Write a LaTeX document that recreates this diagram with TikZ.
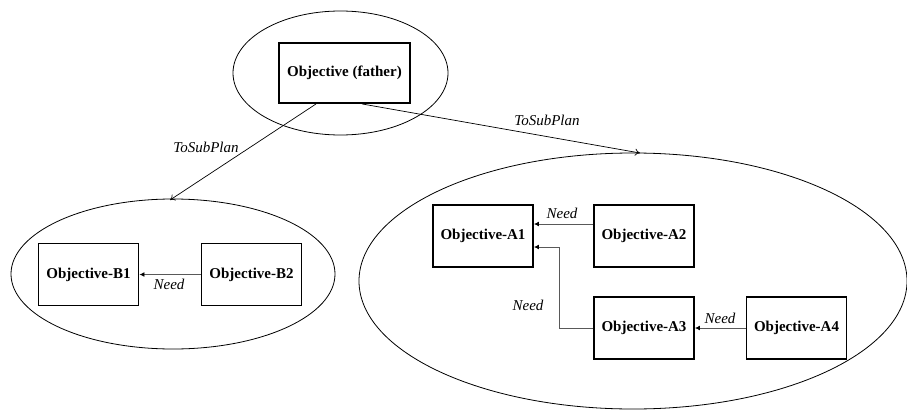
\documentclass[tikz,border=0pt]{standalone}
\usepackage{fontspec}
\setmainfont{Liberation Serif}
\usetikzlibrary{arrows.meta}
\begin{document}
\begin{tikzpicture}[x=1pt,y=-1pt,
  goal/.style={draw,line width=1.9pt,minimum width=100pt,minimum height=62pt,inner sep=0pt,font=\fontsize{15}{18}\selectfont\bfseries},
  plan/.style={line width=0.8pt},
  sub/.style={draw,line width=0.7pt,-{To[length=5pt,width=7pt]}},
  need/.style={draw=black!65,line width=0.9pt,-{Latex[length=5pt,width=5pt,black]}},
  lbl/.style={font=\fontsize{15}{18}\selectfont\itshape,inner sep=0pt}]
\useasboundingbox (0,0) rectangle (907,412);
% sub-plans
\draw[plan] (340.5,73) ellipse [x radius=107.5, y radius=62];
\draw[plan] (173,274) ellipse [x radius=162, y radius=75];
\draw[plan] (633,281) ellipse [x radius=274, y radius=128];
% objectives
\node[goal,minimum width=131pt,minimum height=60pt] (F) at (344.5,73) {Objective (father)};
\node[goal] (B1) at (88.5,274.5) {Objective-B1};
\node[goal] (B2) at (251.5,274.5) {Objective-B2};
\node[goal] (A1) at (483,236) {Objective-A1};
\node[goal] (A2) at (644,236) {Objective-A2};
\node[goal] (A3) at (644,328) {Objective-A3};
\node[goal] (A4) at (796.5,328) {Objective-A4};
% ends of the sub-plan links on the ellipses
\coordinate (Btop) at (170,200);
\coordinate (Atop) at (640,153);
\draw[sub] (F.south west) ++(38,0) coordinate (f1) -- (Btop);
\draw[sub] (F.south west) ++(84,0) coordinate (f2) -- (Atop);
\node[lbl] at (206,147) {ToSubPlan};
\node[lbl] at (547,120) {ToSubPlan};
% dependencies
\draw[need] (B2.west) -- (B1.east);
\node[lbl] at (169,284) {Need};
\draw[need] (A2.west |- 0,224) -- (A1.east |- 0,224);
\node[lbl] at (562,213) {Need};
\draw[need] (A3.west) -| (559,247) -- (A1.east |- 0,247);
\node[lbl] at (528,305) {Need};
\draw[need] (A4.west) -- (A3.east);
\node[lbl] at (720,318) {Need};
\end{tikzpicture}
\end{document}
